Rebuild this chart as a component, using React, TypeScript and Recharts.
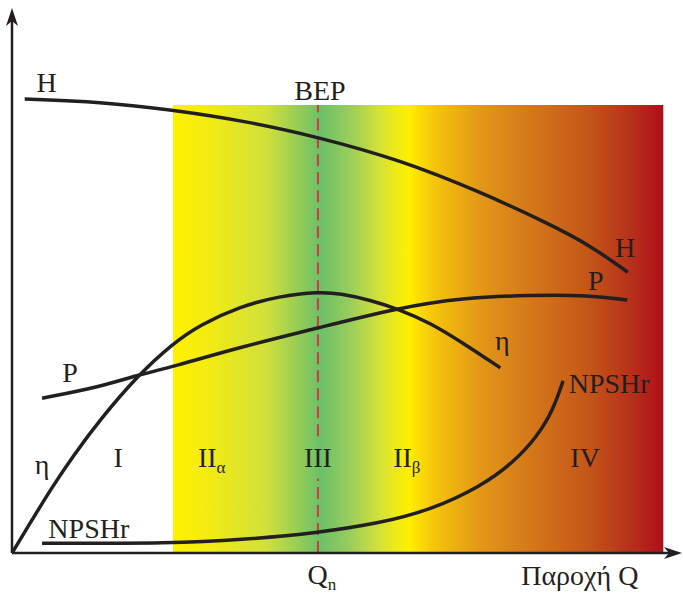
import React from 'react';
import {
  ComposedChart,
  Line,
  Scatter,
  XAxis,
  YAxis,
  ReferenceArea,
  ReferenceLine,
} from 'recharts';

// curves (q = flow, v = value, 0..100 scale)
const headCurve = [
  { q: 1.9, v: 83.6 },
  { q: 13.2, v: 83.1 },
  { q: 24.1, v: 81.6 },
  { q: 35.6, v: 79.4 },
  { q: 45.8, v: 76.6 },
  { q: 58.1, v: 72.4 },
  { q: 70.1, v: 66.5 },
  { q: 80.1, v: 60.8 },
  { q: 86.5, v: 56.7 },
  { q: 92.2, v: 51.7 },
];

const powerCurve = [
  { q: 4.5, v: 28.5 },
  { q: 13.2, v: 30.6 },
  { q: 18.9, v: 32.8 },
  { q: 24.1, v: 34.3 },
  { q: 34.1, v: 37.9 },
  { q: 45.7, v: 41.4 },
  { q: 57.6, v: 45.1 },
  { q: 67.5, v: 47.0 },
  { q: 77.5, v: 47.5 },
  { q: 86.5, v: 47.5 },
  { q: 92.1, v: 46.6 },
];

const effCurve = [
  { q: 0, v: 0 },
  { q: 3.1, v: 6.3 },
  { q: 6.1, v: 12.3 },
  { q: 9.1, v: 17.8 },
  { q: 13.2, v: 24.6 },
  { q: 18.9, v: 32.8 },
  { q: 24.1, v: 38.6 },
  { q: 28.1, v: 42.0 },
  { q: 34.1, v: 45.4 },
  { q: 40.0, v: 47.3 },
  { q: 46.0, v: 48.1 },
  { q: 49.1, v: 47.8 },
  { q: 53.6, v: 46.6 },
  { q: 58.1, v: 44.8 },
  { q: 62.6, v: 42.4 },
  { q: 67.5, v: 38.7 },
  { q: 73.1, v: 34.1 },
];

const npshCurve = [
  { q: 4.5, v: 1.8 },
  { q: 24.1, v: 1.8 },
  { q: 34.1, v: 2.4 },
  { q: 45.8, v: 3.7 },
  { q: 55.1, v: 5.5 },
  { q: 62.6, v: 7.9 },
  { q: 70.1, v: 12.2 },
  { q: 75.0, v: 16.6 },
  { q: 78.6, v: 21.4 },
  { q: 81.0, v: 26.3 },
  { q: 82.5, v: 31.7 },
];

const zone = { q1: 24.1, q2: 97.5, top: 82.5 };
const bepQ = 45.8;

// text labels: q = centre, v = baseline
const labels = [
  { q: 5.2, v: 84.9, text: 'H' },
  { q: 46.1, v: 83.4, text: 'BEP' },
  { q: 91.8, v: 54.5, text: 'H' },
  { q: 87.4, v: 48.4, text: 'P' },
  { q: 8.7, v: 31.5, text: 'P' },
  { q: 73.4, v: 37.4, text: 'η' },
  { q: 4.5, v: 14.5, text: 'η' },
  { q: 89.4, v: 29.5, text: 'NPSHr' },
  { q: 11.5, v: 2.8, text: 'NPSHr' },
  { q: 15.9, v: 15.8, text: 'I' },
  { q: 29.9, v: 15.8, text: 'II', sub: 'α' },
  { q: 45.8, v: 15.8, text: 'III' },
  { q: 59.1, v: 15.8, text: 'II', sub: 'β' },
  { q: 85.8, v: 15.8, text: 'IV' },
  { q: 46.4, v: -5.7, text: 'Q', sub: 'n' },
  { q: 85.0, v: -5.9, text: 'Παροχή Q' },
];

const INK = '#231f20';
const FONT = '"Liberation Serif", "DejaVu Serif", serif';

const LabelShape = (props: any) => {
  const { cx, cy, payload } = props;
  return (
    <text x={cx} y={cy} textAnchor="middle" fontFamily={FONT} fontSize={28} fill={INK}>
      {payload.text}
      {payload.sub && (
        <tspan fontSize={17} dy={6}>
          {payload.sub}
        </tspan>
      )}
    </text>
  );
};

const XArrow = (props: any) => {
  const { x1, y1, x2 } = props;
  return (
    <g>
      <line x1={x1} y1={y1} x2={x2 - 6} y2={y1} stroke={INK} strokeWidth={2.5} />
      <polygon
        points={`${x2 + 2},${y1} ${x2 - 16},${y1 - 6} ${x2 - 11},${y1} ${x2 - 16},${y1 + 6}`}
        fill={INK}
      />
    </g>
  );
};

const YArrow = (props: any) => {
  const { x1, y1, y2 } = props;
  const top = Math.min(y1, y2);
  const bottom = Math.max(y1, y2);
  return (
    <g>
      <line x1={x1} y1={bottom} x2={x1} y2={top + 6} stroke={INK} strokeWidth={2.5} />
      <polygon
        points={`${x1},${top - 2} ${x1 - 6},${top + 16} ${x1},${top + 11} ${x1 + 6},${top + 16}`}
        fill={INK}
      />
    </g>
  );
};

export default function App() {
  return (
    <div style={{ position: 'absolute', left: 0, top: 0, background: '#fff' }}>
      <ComposedChart width={683} height={594} margin={{ top: 10, right: 3, bottom: 3, left: 12 }}>
        <defs>
          <linearGradient id="zoneFill" x1="0" y1="0" x2="1" y2="0">
            <stop offset="0" stopColor="#fff100" />
            <stop offset="0.06" stopColor="#f6ec0e" />
            <stop offset="0.19" stopColor="#d2e03a" />
            <stop offset="0.3" stopColor="#6cc069" />
            <stop offset="0.36" stopColor="#98cd5c" />
            <stop offset="0.42" stopColor="#d4e138" />
            <stop offset="0.48" stopColor="#fff000" />
            <stop offset="0.53" stopColor="#f6c60b" />
            <stop offset="0.62" stopColor="#e49a17" />
            <stop offset="0.72" stopColor="#d67a1a" />
            <stop offset="0.84" stopColor="#c55818" />
            <stop offset="0.93" stopColor="#b7321a" />
            <stop offset="1" stopColor="#b00f1a" />
          </linearGradient>
        </defs>
        <XAxis type="number" dataKey="q" domain={[0, 100]} hide />
        <YAxis type="number" dataKey="v" domain={[-7, 100]} hide />
        <ReferenceArea
          x1={zone.q1}
          x2={zone.q2}
          y1={0}
          y2={zone.top}
          fill="url(#zoneFill)"
          fillOpacity={1}
          stroke="none"
        />
        <ReferenceLine
          segment={[
            { x: bepQ, y: 0 },
            { x: bepQ, y: 13.7 },
          ]}
          stroke="#d9363e"
          strokeWidth={2}
          strokeDasharray="12 6"
        />
        <ReferenceLine
          segment={[
            { x: bepQ, y: 21.5 },
            { x: bepQ, y: zone.top },
          ]}
          stroke="#d9363e"
          strokeWidth={2}
          strokeDasharray="12 6"
        />
        <ReferenceLine
          segment={[
            { x: 0, y: 0 },
            { x: 100, y: 0 },
          ]}
          shape={XArrow}
        />
        <ReferenceLine
          segment={[
            { x: 0, y: 0 },
            { x: 0, y: 100 },
          ]}
          shape={YArrow}
        />
        <Line data={headCurve} dataKey="v" type="basis" stroke={INK} strokeWidth={3.5} dot={false} activeDot={false} isAnimationActive={false} />
        <Line data={powerCurve} dataKey="v" type="basis" stroke={INK} strokeWidth={3.5} dot={false} activeDot={false} isAnimationActive={false} />
        <Line data={effCurve} dataKey="v" type="basis" stroke={INK} strokeWidth={3.5} dot={false} activeDot={false} isAnimationActive={false} />
        <Line data={npshCurve} dataKey="v" type="basis" stroke={INK} strokeWidth={3.5} dot={false} activeDot={false} isAnimationActive={false} />
        <Scatter data={labels} dataKey="v" shape={LabelShape} isAnimationActive={false} />
      </ComposedChart>
    </div>
  );
}
